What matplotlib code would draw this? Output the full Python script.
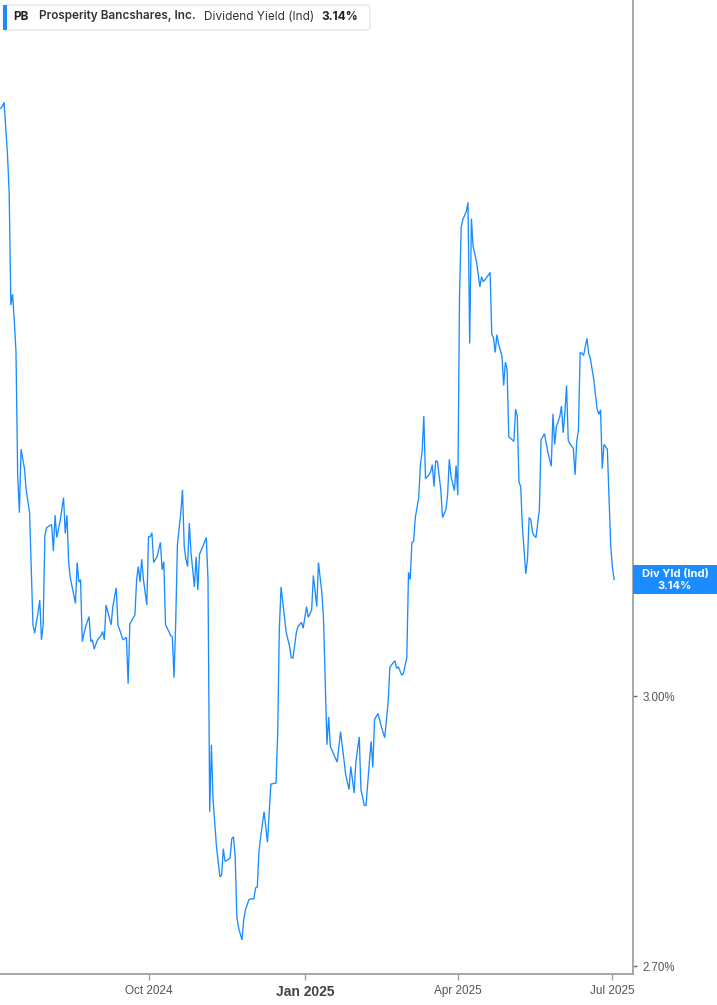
import matplotlib
matplotlib.use("Agg")
import matplotlib.pyplot as plt
from matplotlib.patches import Rectangle, FancyBboxPatch
from matplotlib.ticker import NullLocator, NullFormatter
import pandas as pd

# ---------------- data ----------------
dates = [
    "2024-07-06", "2024-07-07", "2024-07-08", "2024-07-10", "2024-07-11", "2024-07-12", "2024-07-13",
    "2024-07-14", "2024-07-15", "2024-07-16", "2024-07-17", "2024-07-18", "2024-07-20", "2024-07-21",
    "2024-07-23", "2024-07-25", "2024-07-26", "2024-07-28", "2024-07-29", "2024-07-30", "2024-07-31",
    "2024-08-01", "2024-08-02", "2024-08-04", "2024-08-05", "2024-08-06", "2024-08-07", "2024-08-08",
    "2024-08-10", "2024-08-12", "2024-08-13", "2024-08-14", "2024-08-15", "2024-08-16", "2024-08-19",
    "2024-08-20", "2024-08-21", "2024-08-22", "2024-08-23", "2024-08-25", "2024-08-27", "2024-08-28",
    "2024-08-29", "2024-08-30", "2024-09-01", "2024-09-03", "2024-09-04", "2024-09-05", "2024-09-06",
    "2024-09-09", "2024-09-10", "2024-09-12", "2024-09-13", "2024-09-14", "2024-09-16", "2024-09-18",
    "2024-09-19", "2024-09-20", "2024-09-23", "2024-09-24", "2024-09-25", "2024-09-26", "2024-09-27",
    "2024-09-28", "2024-09-30", "2024-10-01", "2024-10-02", "2024-10-03", "2024-10-04", "2024-10-06",
    "2024-10-08", "2024-10-09", "2024-10-10", "2024-10-11", "2024-10-13", "2024-10-14", "2024-10-15",
    "2024-10-16", "2024-10-17", "2024-10-18", "2024-10-20", "2024-10-21", "2024-10-22", "2024-10-23",
    "2024-10-24", "2024-10-25", "2024-10-26", "2024-10-28", "2024-10-29", "2024-10-30", "2024-10-31",
    "2024-11-02", "2024-11-04", "2024-11-05", "2024-11-06", "2024-11-07", "2024-11-08", "2024-11-10",
    "2024-11-12", "2024-11-13", "2024-11-14", "2024-11-15", "2024-11-17", "2024-11-18", "2024-11-19",
    "2024-11-20", "2024-11-21", "2024-11-22", "2024-11-23", "2024-11-25", "2024-11-26", "2024-11-27",
    "2024-11-29", "2024-11-30", "2024-12-02", "2024-12-03", "2024-12-04", "2024-12-05", "2024-12-06",
    "2024-12-08", "2024-12-10", "2024-12-12", "2024-12-14", "2024-12-15", "2024-12-16", "2024-12-17",
    "2024-12-18", "2024-12-20", "2024-12-21", "2024-12-23", "2024-12-24", "2024-12-25", "2024-12-27",
    "2024-12-28", "2024-12-30", "2024-12-31", "2025-01-02", "2025-01-03", "2025-01-05", "2025-01-06",
    "2025-01-08", "2025-01-09", "2025-01-11", "2025-01-12", "2025-01-13", "2025-01-14", "2025-01-15",
    "2025-01-16", "2025-01-18", "2025-01-20", "2025-01-22", "2025-01-24", "2025-01-25", "2025-01-27",
    "2025-01-28", "2025-01-30", "2025-01-31", "2025-02-02", "2025-02-03", "2025-02-05", "2025-02-06",
    "2025-02-07", "2025-02-08", "2025-02-09", "2025-02-10", "2025-02-11", "2025-02-13", "2025-02-15",
    "2025-02-17", "2025-02-19", "2025-02-20", "2025-02-22", "2025-02-23", "2025-02-24", "2025-02-25",
    "2025-02-27", "2025-02-28", "2025-03-02", "2025-03-03", "2025-03-04", "2025-03-05", "2025-03-06",
    "2025-03-07", "2025-03-09", "2025-03-10", "2025-03-11", "2025-03-12", "2025-03-13", "2025-03-15",
    "2025-03-16", "2025-03-17", "2025-03-18", "2025-03-19", "2025-03-20", "2025-03-22", "2025-03-23",
    "2025-03-25", "2025-03-26", "2025-03-27", "2025-03-28", "2025-03-30", "2025-03-31", "2025-04-01",
    "2025-04-02", "2025-04-03", "2025-04-04", "2025-04-06", "2025-04-07", "2025-04-08", "2025-04-09",
    "2025-04-10", "2025-04-12", "2025-04-13", "2025-04-14", "2025-04-15", "2025-04-16", "2025-04-18",
    "2025-04-20", "2025-04-21", "2025-04-22", "2025-04-23", "2025-04-24", "2025-04-25", "2025-04-27",
    "2025-04-28", "2025-04-29", "2025-04-30", "2025-05-01", "2025-05-02", "2025-05-04", "2025-05-05",
    "2025-05-06", "2025-05-07", "2025-05-08", "2025-05-09", "2025-05-11", "2025-05-12", "2025-05-13",
    "2025-05-14", "2025-05-15", "2025-05-16", "2025-05-17", "2025-05-19", "2025-05-20", "2025-05-22",
    "2025-05-24", "2025-05-26", "2025-05-27", "2025-05-28", "2025-05-29", "2025-05-31", "2025-06-01",
    "2025-06-02", "2025-06-03", "2025-06-04", "2025-06-05", "2025-06-06", "2025-06-08", "2025-06-09",
    "2025-06-10", "2025-06-11", "2025-06-12", "2025-06-13", "2025-06-14", "2025-06-16", "2025-06-17",
    "2025-06-18", "2025-06-20", "2025-06-22", "2025-06-23", "2025-06-24", "2025-06-25", "2025-06-26",
    "2025-06-27", "2025-06-28", "2025-06-30", "2025-07-01", "2025-07-02",
]

yields = [
    3.774, 3.777, 3.783, 3.707, 3.651, 3.495, 3.510, 3.474, 3.432, 3.271,
    3.223, 3.304, 3.279, 3.252, 3.223, 3.085, 3.075, 3.100, 3.115, 3.067,
    3.085, 3.194, 3.204, 3.207, 3.208, 3.175, 3.220, 3.192, 3.213, 3.242,
    3.197, 3.220, 3.161, 3.142, 3.111, 3.161, 3.137, 3.140, 3.065, 3.083,
    3.095, 3.065, 3.067, 3.056, 3.067, 3.072, 3.077, 3.067, 3.109, 3.085,
    3.107, 3.130, 3.085, 3.079, 3.067, 3.070, 3.015, 3.086, 3.097, 3.140,
    3.156, 3.137, 3.165, 3.140, 3.109, 3.193, 3.193, 3.198, 3.161, 3.168,
    3.186, 3.152, 3.162, 3.085, 3.077, 3.072, 3.071, 3.022, 3.088, 3.183,
    3.223, 3.252, 3.181, 3.165, 3.156, 3.210, 3.173, 3.131, 3.168, 3.127,
    3.171, 3.181, 3.192, 3.140, 2.868, 2.944, 2.881, 2.829, 2.796, 2.798,
    2.827, 2.813, 2.815, 2.817, 2.838, 2.840, 2.818, 2.752, 2.741, 2.728,
    2.749, 2.760, 2.771, 2.772, 2.772, 2.784, 2.785, 2.824, 2.840, 2.868,
    2.834, 2.899, 2.900, 2.900, 2.956, 3.082, 3.131, 3.094, 3.076, 3.059,
    3.046, 3.045, 3.076, 3.083, 3.088, 3.081, 3.107, 3.094, 3.103, 3.145,
    3.107, 3.161, 3.124, 3.091, 3.016, 2.944, 2.976, 2.942, 2.933, 2.924,
    2.959, 2.927, 2.910, 2.893, 2.919, 2.889, 2.924, 2.953, 2.893, 2.875,
    2.875, 2.900, 2.925, 2.948, 2.918, 2.973, 2.980, 2.965, 2.952, 2.993,
    3.034, 3.040, 3.042, 3.033, 3.035, 3.025, 3.027, 3.046, 3.149, 3.140,
    3.186, 3.187, 3.217, 3.242, 3.284, 3.301, 3.347, 3.266, 3.271, 3.275,
    3.284, 3.256, 3.289, 3.288, 3.252, 3.217, 3.227, 3.246, 3.291, 3.269,
    3.251, 3.283, 3.245, 3.506, 3.603, 3.614, 3.625, 3.638, 3.443, 3.615,
    3.576, 3.555, 3.537, 3.520, 3.534, 3.527, 3.533, 3.540, 3.455, 3.451,
    3.431, 3.455, 3.442, 3.426, 3.387, 3.418, 3.408, 3.320, 3.318, 3.314,
    3.356, 3.347, 3.262, 3.256, 3.206, 3.147, 3.165, 3.217, 3.214, 3.198,
    3.194, 3.192, 3.227, 3.316, 3.324, 3.300, 3.282, 3.350, 3.310, 3.333,
    3.346, 3.360, 3.325, 3.351, 3.387, 3.315, 3.311, 3.305, 3.271, 3.314,
    3.329, 3.431, 3.430, 3.427, 3.450, 3.430, 3.423, 3.395, 3.356, 3.349,
    3.355, 3.279, 3.310, 3.307, 3.304, 3.181, 3.155, 3.140,
]

x_tick_dates = ["2024-10-01", "2025-01-01", "2025-04-01", "2025-07-01"]
x_tick_labels = ["Oct 2024", "Jan 2025", "Apr 2025", "Jul 2025"]
y_ticks = [2.70, 3.00]
y_tick_labels = ["2.70%", "3.00%"]

ticker = "PB"
company = "Prosperity Bancshares, Inc."
metric = "Dividend Yield (Ind)"
last_text = "3.14%"
tag_title = "Div Yld (Ind)"
last_value = 3.14

# ---------------- style ----------------
BLUE = "#1a8cff"
AXIS = "#a0a0a0"
W, H = 717, 1005

fig = plt.figure(figsize=(W / 100, H / 100), dpi=100)
ax = fig.add_axes([0, 31 / H, 633 / W, 974 / H])

ax.plot(pd.to_datetime(dates), yields, color=BLUE, lw=0.95, solid_joinstyle="miter")

ax.set_yscale("log")
ax.set_ylim(2.692, 3.937)
ref = pd.Timestamp("2024-10-01")
ax.set_xlim(ref - pd.Timedelta(days=87.4), ref + pd.Timedelta(days=285.1))

for s in ("top", "left"):
    ax.spines[s].set_visible(False)
for s in ("right", "bottom"):
    ax.spines[s].set_color(AXIS)
    ax.spines[s].set_linewidth(1.3)

tickfont = ["Liberation Sans", "DejaVu Sans"]

ax.yaxis.tick_right()
ax.yaxis.set_minor_locator(NullLocator())
ax.yaxis.set_minor_formatter(NullFormatter())
ax.set_yticks(y_ticks)
ax.set_yticklabels(y_tick_labels)
ax.tick_params(axis="y", length=3, width=1, color="#666666", pad=4,
               labelsize=8.3, labelcolor="#555555")
for t in ax.get_yticklabels():
    t.set_family(tickfont)

ax.set_xticks(pd.to_datetime(x_tick_dates))
ax.set_xticklabels(x_tick_labels)
ax.tick_params(axis="x", length=4, width=1, color=AXIS, pad=4,
               labelsize=8.5, labelcolor="#555555")
for t in ax.get_xticklabels():
    t.set_family(tickfont)
    if t.get_text().startswith("Jan"):
        t.set_fontweight("bold")
        t.set_fontsize(10)
        t.set_color("#444444")

def fx(px):
    return px / W

def fy(py):
    return 1 - py / H

# header legend box
box = FancyBboxPatch((fx(3), fy(30)), 367 / W, 25 / H,
                     boxstyle="round,pad=0,rounding_size=0.004",
                     transform=fig.transFigure, fc="white", ec="#e2e2e2", lw=0.8)
fig.add_artist(box)
fig.add_artist(Rectangle((fx(3), fy(30)), 3.5 / W, 25 / H, transform=fig.transFigure,
                         fc=BLUE, ec="none"))
hdr = ["Inter", "DejaVu Sans"]
fig.text(fx(13), fy(16.5), ticker, ha="left", va="center", fontsize=8.5,
         fontweight="bold", color="#222222", family=hdr)
fig.text(fx(39), fy(16.5), company, ha="left", va="center", fontsize=8.5,
         fontweight="semibold", color="#333333", family=hdr)
fig.text(fx(204), fy(16.5), metric, ha="left", va="center", fontsize=8.5,
         color="#333333", family=hdr)
fig.text(fx(321), fy(16.5), last_text, ha="left", va="center", fontsize=8.5,
         fontweight="bold", color="#222222", family=hdr)

# last value tag on the right axis
y_disp = ax.get_yaxis_transform().transform((1, last_value))[1]
yc = y_disp / H
fig.add_artist(Rectangle((fx(633), yc - 14.5 / H), 84 / W, 29 / H,
                         transform=fig.transFigure, fc=BLUE, ec="none"))
fig.text(fx(675), yc + 6 / H, tag_title, ha="center", va="center", fontsize=8,
         fontweight="bold", color="white", family=hdr)
fig.text(fx(675), yc - 6 / H, last_text, ha="center", va="center", fontsize=8,
         fontweight="bold", color="white", family=hdr)

fig.savefig("out.png", dpi=100)
